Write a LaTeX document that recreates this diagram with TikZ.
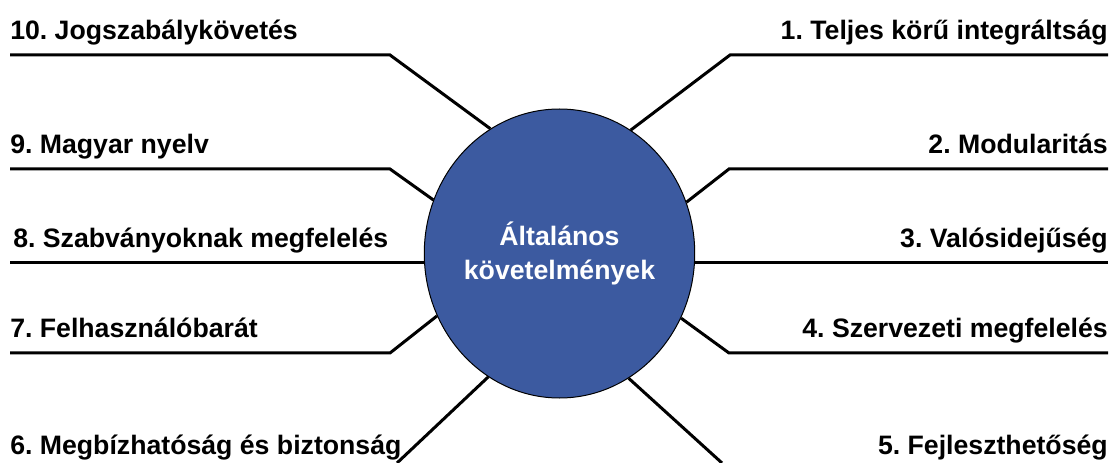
\documentclass[tikz,border=0pt]{standalone}
\usepackage{fontspec}
\setmainfont{Liberation Sans}
\usetikzlibrary{shapes.geometric}
\definecolor{coreblue}{RGB}{60,90,160}
\frenchspacing

\begin{document}
\begin{tikzpicture}[
    x=0.75pt, y=-0.75pt,
    core/.style={
        ellipse,
        draw=black,
        line width=0.75pt,
        fill=coreblue,
        text=white,
        align=center,
        inner sep=0pt,
        minimum width=201.75pt,
        minimum height=216.75pt,
        font=\bfseries\fontsize{20}{25.5}\selectfont
    },
    label/.style={
        inner sep=0pt,
        font=\bfseries\fontsize{20}{24}\selectfont
    },
    leftlabel/.style={label, anchor=base west},
    rightlabel/.style={label, anchor=base east},
    spoke/.style={
        line width=2.25pt,
        draw=black
    }
]

% ---------------------------------------------------------
% Canvas
% ---------------------------------------------------------
\path[use as bounding box] (0,0) rectangle (1114,463);

% ---------------------------------------------------------
% Central ellipse
% ---------------------------------------------------------
\node[core] (core) at (559.5,253.5) {Általános\\követelmények};

% ---------------------------------------------------------
% Left side labels
% ---------------------------------------------------------
\node[leftlabel] (req10) at (10,40)  {10. Jogszabálykövetés};
\node[leftlabel] (req9)  at (10,154) {9. Magyar nyelv};
\node[leftlabel] (req8)  at (13,248) {8. Szabványoknak megfelelés};
\node[leftlabel] (req7)  at (10,338) {7. Felhasználóbarát};
\node[leftlabel] (req6)  at (10,454) {6. Megbízhatóság és biztonság};

% ---------------------------------------------------------
% Right side labels
% ---------------------------------------------------------
\node[rightlabel] (req1) at (1108,40)  {1. Teljes körű integráltság};
\node[rightlabel] (req2) at (1108,154) {2. Modularitás};
\node[rightlabel] (req3) at (1108,248) {3. Valósidejűség};
\node[rightlabel] (req4) at (1108,338) {4. Szervezeti megfelelés};
\node[rightlabel] (req5) at (1108,454) {5. Fejleszthetőség};

% ---------------------------------------------------------
% Spokes: underline, knee, then into the ellipse
% ---------------------------------------------------------
\coordinate (s10) at (10,55);    \coordinate (k10) at (390,55);
\coordinate (s9)  at (10,169);   \coordinate (k9)  at (390,169);
\coordinate (s8)  at (10,263);
\coordinate (s7)  at (10,353);   \coordinate (k7)  at (390,353);
\coordinate (e6)  at (397,463);

\coordinate (s1)  at (1108,55);  \coordinate (k1)  at (730,55);
\coordinate (s2)  at (1108,169); \coordinate (k2)  at (729,169);
\coordinate (s3)  at (1108,263);
\coordinate (s4)  at (1108,353); \coordinate (k4)  at (729,353);
\coordinate (e5)  at (722,463);

\draw[spoke] (s10) -- (k10) -- (core.119.2);
\draw[spoke] (s9) -- (k9) -- (core.157.7);
\draw[spoke] (s8) -- (s8 -| core.west);
\draw[spoke] (s7) -- (k7) -- (core.207.6);
\draw[spoke] (e6) -- (core.240.8);

\draw[spoke] (s1) -- (k1) -- (core.60.5);
\draw[spoke] (s2) -- (k2) -- (core.22.3);
\draw[spoke] (s3) -- (s3 -| core.east);
\draw[spoke] (s4) -- (k4) -- (core.332.4);
\draw[spoke] (e5) -- (core.299.2);

\end{tikzpicture}
\end{document}
